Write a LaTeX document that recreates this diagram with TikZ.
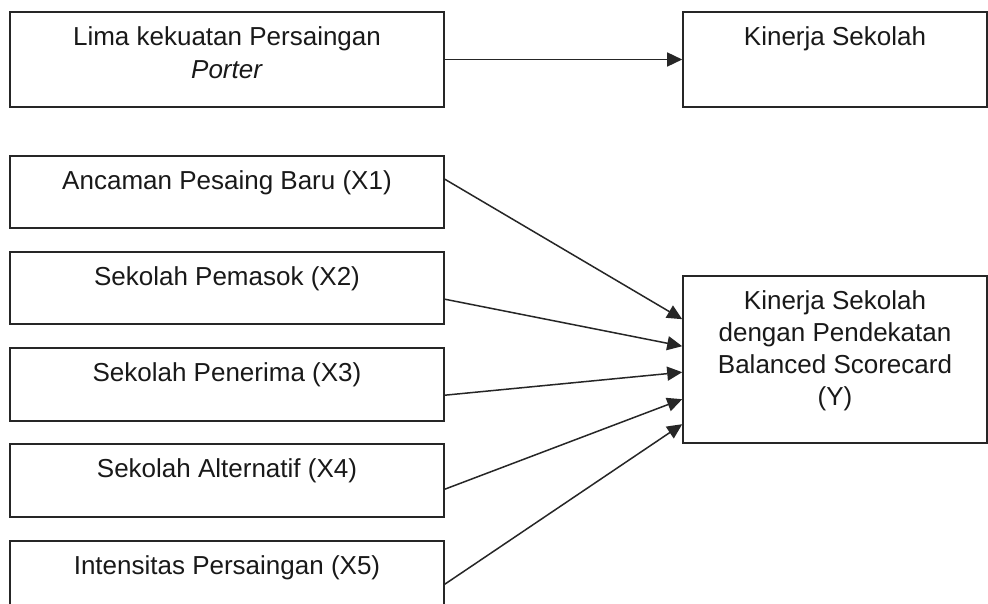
\documentclass[tikz,border=0pt]{standalone}
\usepackage{fontspec}
\setmainfont{Liberation Sans}
\usetikzlibrary{arrows.meta,calc}
\begin{document}
\begin{tikzpicture}[x=1pt,y=-1pt,
  box/.style={draw=black!85,line width=1.6pt,inner sep=0pt,minimum width=434pt},
  rbox/.style={draw=black!85,line width=1.6pt,inner sep=0pt,minimum width=304pt},
  txt/.style={anchor=north,inner sep=0pt,align=center,text=black!90,font=\fontsize{26}{33}\selectfont,yshift=-15pt},
  conn/.style={draw=black!85,line width=1.5pt,-{Triangle[length=15pt,width=14pt]}}]
\useasboundingbox (0,0) rectangle (988,604);
\clip (0,0) rectangle (988,604);
\fill[white] (0,0) rectangle (988,604);
\node[box,minimum height=95pt,label={[txt]north:Lima kekuatan Persaingan\\\textit{Porter}}] (b1) at (227,59.5) {};
\node[rbox,minimum height=95pt,label={[txt]north:Kinerja Sekolah}] (k) at (835,59.5) {};
\node[box,minimum height=72pt,label={[txt]north:Ancaman Pesaing Baru (X1)}] (x1) at (227,192) {};
\node[box,minimum height=72pt,label={[txt]north:Sekolah Pemasok (X2)}] (x2) at (227,288) {};
\node[box,minimum height=73pt,label={[txt]north:Sekolah Penerima (X3)}] (x3) at (227,384.5) {};
\node[box,minimum height=73pt,label={[txt]north:Sekolah Alternatif (X4)}] (x4) at (227,480.5) {};
\node[box,minimum height=73pt,label={[txt]north:Intensitas Persaingan (X5)}] (x5) at (227,577.5) {};
\node[rbox,minimum height=167pt,label={[txt,font=\fontsize{26}{32}\selectfont]north:Kinerja Sekolah\\dengan Pendekatan\\Balanced Scorecard\\(Y)}] (y) at (835,359.5) {};
\draw[conn] (b1.east) -- (k.west);
\draw[conn] ($(x1.north east)+(0,24)$) -- ($(y.north west)+(0,44)$);
\draw[conn] ($(x2.north east)+(0,48)$) -- ($(y.north west)+(0,71)$);
\draw[conn] ($(x3.north east)+(0,48)$) -- ($(y.north west)+(0,97)$);
\draw[conn] ($(x4.north east)+(0,46)$) -- ($(y.north west)+(0,124)$);
\draw[conn] ($(x5.north east)+(0,44)$) -- ($(y.north west)+(0,149)$);
\end{tikzpicture}
\end{document}
